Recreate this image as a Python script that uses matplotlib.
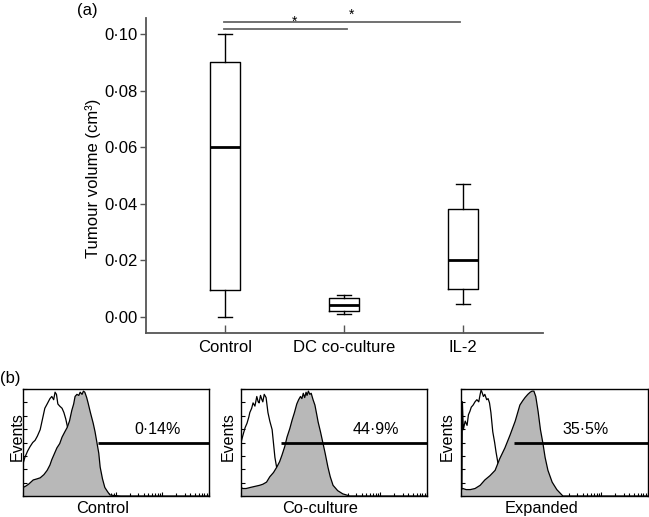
import numpy as np
import matplotlib
matplotlib.use('Agg')
import matplotlib.pyplot as plt
from matplotlib.ticker import LogLocator, NullFormatter, FixedLocator

plt.rcParams['font.family'] = ['Liberation Sans', 'DejaVu Sans']

# ---- panel (a): tumour volume box plot ----
groups = ['Control', 'DC co-culture', 'IL-2']
whislo = [0.0000, 0.0010, 0.0046]
q1 = [0.0095, 0.0021, 0.0099]
med = [0.0602, 0.0041, 0.0202]
q3 = [0.0901, 0.0068, 0.0380]
whishi = [0.1000, 0.0078, 0.0470]
ytick_vals = [0.00, 0.02, 0.04, 0.06, 0.08, 0.10]
ytick_labels = ['0\u00b700', '0\u00b702', '0\u00b704', '0\u00b706', '0\u00b708', '0\u00b710']

# significance bars: (from group, to group, height, star position)
sig_from = [0, 0]
sig_to = [1, 2]
sig_y = [0.1017, 0.1042]
sig_star_x = [0.58, 1.06]

# ---- panel (b): flow histograms, x in log decades, y in % of max ----
ctrl_open_x = [0.00, 0.04, 0.10, 0.15, 0.21, 0.26, 0.31, 0.37, 0.42, 0.47, 0.52, 0.58, 0.62,
               0.66, 0.69, 0.72, 0.75, 0.79, 0.84, 0.88, 0.92, 0.96, 1.01, 1.07, 1.12, 1.18,
               1.23, 1.30, 1.40]
ctrl_open_y = [30, 36, 42, 46, 50, 52, 56, 62, 72, 82, 86, 91, 93, 90, 97, 95, 86, 84, 82, 78,
               72, 64, 52, 40, 29, 18, 10, 4, 0]
ctrl_fill_x = [0.00, 0.05, 0.12, 0.22, 0.30, 0.37, 0.45, 0.52, 0.58, 0.62, 0.68, 0.73, 0.79,
               0.84, 0.90, 0.95, 1.00, 1.05, 1.09, 1.12, 1.16, 1.20, 1.23, 1.27, 1.30, 1.33,
               1.37, 1.40, 1.45, 1.51, 1.55, 1.59, 1.63, 1.66, 1.71, 1.76, 1.82, 1.87, 1.95,
               2.10, 4.00]
ctrl_fill_y = [8, 9, 11, 15, 16, 17, 20, 24, 29, 34, 40, 45, 49, 55, 60, 64, 70, 80, 86, 93, 95,
               94, 97, 95, 98, 97, 92, 87, 78, 68, 60, 50, 40, 27, 16, 8, 4, 1, 0.5, 0, 0]

cc_open_x = [0.00, 0.05, 0.09, 0.13, 0.17, 0.19, 0.23, 0.26, 0.30, 0.34, 0.37, 0.39, 0.42,
             0.45, 0.47, 0.50, 0.54, 0.58, 0.62, 0.67, 0.73, 0.77, 0.84, 0.92, 1.01]
cc_open_y = [50, 58, 64, 68, 74, 78, 82, 87, 84, 93, 88, 87, 94, 90, 88, 95, 92, 78, 70, 62,
             36, 26, 12, 3, 0]
cc_fill_x = [0.00, 0.04, 0.11, 0.20, 0.30, 0.40, 0.47, 0.55, 0.62, 0.70, 0.77, 0.83, 0.88,
             0.94, 0.99, 1.05, 1.10, 1.15, 1.20, 1.24, 1.28, 1.31, 1.34, 1.37, 1.40, 1.42,
             1.45, 1.48, 1.51, 1.55, 1.59, 1.63, 1.66, 1.71, 1.76, 1.81, 1.87, 1.92, 1.98,
             2.08, 2.19, 2.34, 4.00]
cc_fill_y = [8, 7, 7, 8, 9, 10, 11, 13, 18, 22, 27, 32, 38, 46, 55, 63, 71, 78, 86, 90, 93, 91,
             96, 92, 97, 94, 98, 95, 96, 90, 85, 76, 69, 60, 50, 40, 27, 18, 10, 5, 2, 0, 0]

ex_open_x = [0.00, 0.02, 0.03, 0.05, 0.09, 0.13, 0.16, 0.19, 0.22, 0.26, 0.30, 0.34, 0.38,
             0.41, 0.43, 0.45, 0.48, 0.51, 0.55, 0.58, 0.61, 0.64, 0.68, 0.72, 0.75, 0.79,
             0.84, 0.88, 0.96, 1.05]
ex_open_y = [7, 7, 88, 62, 70, 66, 76, 79, 83, 85, 88, 90, 88, 95, 99, 97, 93, 95, 90, 91, 87,
             78, 60, 50, 41, 31, 22, 15, 5, 0]
ex_fill_x = [0.00, 0.04, 0.11, 0.20, 0.30, 0.41, 0.51, 0.62, 0.73, 0.83, 0.94, 1.05, 1.16,
             1.26, 1.32, 1.37, 1.43, 1.48, 1.52, 1.56, 1.60, 1.65, 1.70, 1.75, 1.80, 1.86,
             1.95, 2.05, 2.18, 4.00]
ex_fill_y = [6, 7, 6, 6, 7, 10, 15, 19, 24, 35, 45, 57, 70, 85, 89, 92, 95, 97, 98, 98, 93, 79,
             62, 50, 36, 24, 13, 6, 0, 0]

hist_labels = ['Control', 'Co-culture', 'Expanded']
gate_start = [1.61, 0.86, 1.13]
gate_pct = ['0\u00b714%', '44\u00b79%', '35\u00b75%']
pct_x = [2.90, 2.90, 2.67]

W, H = 649, 517
fig = plt.figure(figsize=(6.49, 5.17), dpi=100)

# panel (a)
ax = fig.add_axes([0.2250, 0.3559, 0.6117, 0.6093])
stats = []
for i in range(len(groups)):
    stats.append(dict(med=med[i], q1=q1[i], q3=q3[i], whislo=whislo[i], whishi=whishi[i],
                      label=groups[i]))
ax.bxp(stats, positions=[0, 1, 2], widths=0.245, showfliers=False,
       boxprops=dict(color='black', linewidth=1.0),
       medianprops=dict(color='black', linewidth=2.0),
       whiskerprops=dict(color='black', linewidth=1.0),
       capprops=dict(color='black', linewidth=1.0),
       capwidths=0.115)
ax.set_xlim(-0.664, 2.672)
ax.set_ylim(-0.0057, 0.1057)
ax.set_yticks(ytick_vals)
ax.set_yticklabels(ytick_labels, fontsize=12)
ax.tick_params(axis='y', direction='out', length=4.5, width=1.0, color='#555555', pad=1.5)
ax.tick_params(axis='x', direction='in', length=5.5, width=1.0, color='#555555', labelsize=12, pad=5)
for s in ['top', 'right']:
    ax.spines[s].set_visible(False)
for s in ['left', 'bottom']:
    ax.spines[s].set_color('#555555')
    ax.spines[s].set_linewidth(1.3)
ax.set_ylabel('Tumour volume (cm\u00b3)', fontsize=12)
ax.yaxis.set_label_coords(-0.113, 0.49)

for a, b, h, sx in zip(sig_from, sig_to, sig_y, sig_star_x):
    x0 = a - 0.01
    x1 = b + (0.025 if b == 1 else -0.025)
    ax.plot([x0, x1], [h, h], color='#666666', lw=1.3, clip_on=False)
    ax.text(sx, h + 0.0002, '*', ha='center', va='bottom', fontsize=10, clip_on=False)

fig.text(87 / W, 1 - 10 / H, '(a)', ha='center', va='center', fontsize=12)
fig.text(10 / W, 1 - 378 / H, '(b)', ha='center', va='center', fontsize=12)

# panel (b)
hist_pos = [[0.0354, 0.0406, 0.2866, 0.2070],
            [0.3713, 0.0406, 0.2866, 0.2070],
            [0.7103, 0.0406, 0.2881, 0.2070]]
label_cx = [103, 320, 542]
events_cx = [17, 228, 447]
open_xs = [ctrl_open_x, cc_open_x, ex_open_x]
open_ys = [ctrl_open_y, cc_open_y, ex_open_y]
fill_xs = [ctrl_fill_x, cc_fill_x, ex_fill_x]
fill_ys = [ctrl_fill_y, cc_fill_y, ex_fill_y]

for k in range(3):
    hx = fig.add_axes(hist_pos[k])
    ox = 10 ** np.array(open_xs[k])
    fx = 10 ** np.array(fill_xs[k])
    hx.plot(ox, open_ys[k], color='black', lw=0.9)
    hx.fill_between(fx, 0, fill_ys[k], facecolor='#b8b8b8', edgecolor='none', zorder=2)
    hx.plot(fx, fill_ys[k], color='black', lw=0.9, zorder=3)
    hx.hlines(50, 10 ** gate_start[k], 1e4, color='black', lw=2.0, zorder=4)
    hx.text(10 ** pct_x[k], 62, gate_pct[k], ha='center', va='center', fontsize=11.5, zorder=5)
    hx.set_xscale('log')
    hx.set_xlim(1, 1e4)
    hx.set_ylim(0, 100)
    hx.xaxis.set_major_locator(LogLocator(base=10, numticks=10))
    hx.xaxis.set_minor_locator(LogLocator(base=10, subs=np.arange(2, 10), numticks=20))
    hx.xaxis.set_major_formatter(NullFormatter())
    hx.xaxis.set_minor_formatter(NullFormatter())
    hx.yaxis.set_major_locator(FixedLocator(np.linspace(0, 100, 9)))
    hx.set_yticklabels([])
    hx.tick_params(axis='both', which='major', direction='in', length=3, width=0.8)
    hx.tick_params(axis='x', which='minor', direction='in', length=2, width=0.8)
    for s in hx.spines.values():
        s.set_linewidth(1.0)
    fig.text(label_cx[k] / W, 1 - 513 / H, hist_labels[k], ha='center', va='baseline',
             fontsize=11.8)
    fig.text(events_cx[k] / W, 1 - 437 / H, 'Events', ha='center', va='center',
             rotation=90, fontsize=11.5)

fig.savefig('out.png', dpi=100)
